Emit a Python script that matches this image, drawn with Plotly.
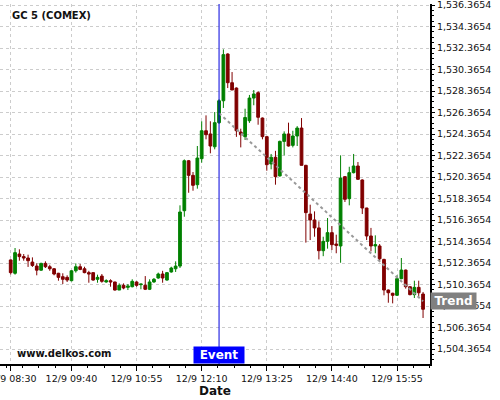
import pandas as pd
import plotly.graph_objects as go

# ---- data ----
start_time = "2014-12-09 08:30"
bar_minutes = 5
opens = [1512.65, 1511.41, 1513.20, 1512.96, 1512.83, 1512.45, 1512.08, 1511.70, 1512.33, 1512.02,
         1511.83, 1511.41, 1511.09, 1511.03, 1510.72, 1511.64, 1512.02, 1511.83, 1511.47, 1511.47,
         1510.85, 1511.15, 1510.60, 1510.72, 1510.60, 1509.85, 1510.29, 1510.10, 1510.16, 1510.60,
         1510.35, 1510.29, 1509.92, 1510.60, 1510.97, 1511.34, 1510.78, 1511.53, 1511.83, 1512.08,
         1517.23, 1521.88, 1520.52, 1519.65, 1522.07, 1524.67, 1524.37, 1523.18, 1525.42, 1527.46,
         1531.81, 1529.14, 1528.64, 1524.55, 1524.12, 1525.60, 1527.71, 1528.21, 1525.85, 1524.12,
         1521.58, 1522.20, 1520.47, 1523.68, 1524.37, 1523.31, 1524.18, 1524.92, 1521.45, 1516.92,
         1516.37, 1515.63, 1513.51, 1514.38, 1515.19, 1514.13, 1513.95, 1520.40, 1518.35, 1520.77,
         1521.39, 1520.09, 1517.48, 1514.88, 1513.95, 1513.95, 1512.70, 1509.85, 1509.55, 1509.36,
         1510.91, 1511.71, 1510.16, 1509.42, 1510.10, 1509.48]
highs = [1512.70, 1513.76, 1513.64, 1513.20, 1513.14, 1512.89, 1512.33, 1512.39, 1512.52, 1512.20,
         1511.90, 1511.45, 1511.41, 1511.22, 1511.70, 1512.33, 1512.27, 1512.02, 1511.64, 1511.50,
         1511.28, 1511.34, 1510.85, 1510.85, 1510.62, 1510.47, 1510.47, 1510.41, 1510.85, 1510.66,
         1510.41, 1511.15, 1510.85, 1510.97, 1511.47, 1511.64, 1511.53, 1512.02, 1512.52, 1517.73,
         1522.00, 1521.95, 1520.83, 1523.25, 1525.55, 1526.10, 1525.55, 1526.41, 1527.60, 1532.24,
         1531.87, 1530.13, 1528.70, 1524.86, 1526.72, 1528.00, 1528.46, 1528.34, 1525.90, 1524.20,
         1522.51, 1522.80, 1523.75, 1524.61, 1525.42, 1524.67, 1525.10, 1525.85, 1521.50, 1517.79,
         1517.17, 1516.24, 1514.81, 1516.55, 1515.80, 1515.00, 1522.38, 1520.45, 1521.32, 1522.51,
         1521.76, 1520.15, 1517.50, 1515.63, 1514.94, 1514.13, 1512.76, 1509.90, 1509.60, 1511.22,
         1512.83, 1511.75, 1510.20, 1510.72, 1510.72, 1509.67]
lows = [1511.30, 1511.28, 1512.58, 1512.58, 1512.00, 1512.00, 1511.22, 1511.64, 1511.90, 1511.64,
        1511.22, 1510.72, 1510.41, 1510.60, 1510.66, 1511.47, 1511.70, 1511.41, 1510.53, 1510.72,
        1510.53, 1510.53, 1510.53, 1510.16, 1509.80, 1509.85, 1509.92, 1509.85, 1510.10, 1510.16,
        1509.92, 1509.85, 1509.85, 1510.53, 1510.90, 1510.53, 1510.72, 1511.47, 1511.53, 1511.90,
        1516.67, 1518.90, 1519.09, 1519.28, 1521.70, 1523.87, 1522.57, 1522.94, 1525.30, 1526.79,
        1528.64, 1528.46, 1524.10, 1523.12, 1523.81, 1525.40, 1527.04, 1525.23, 1523.87, 1520.95,
        1521.08, 1519.65, 1520.40, 1522.38, 1523.20, 1523.12, 1523.25, 1521.45, 1514.26, 1514.50,
        1514.81, 1512.70, 1513.00, 1513.70, 1513.57, 1513.27, 1512.39, 1518.04, 1517.73, 1520.70,
        1520.10, 1516.92, 1514.50, 1513.45, 1513.27, 1512.45, 1509.36, 1508.67, 1508.61, 1509.30,
        1510.85, 1509.98, 1509.36, 1509.11, 1509.24, 1507.25]
closes = [1511.47, 1513.33, 1512.96, 1512.83, 1512.58, 1512.14, 1511.70, 1512.33, 1512.02, 1511.83,
          1511.34, 1511.03, 1510.85, 1510.78, 1511.64, 1512.02, 1511.77, 1511.47, 1511.34, 1510.78,
          1511.03, 1510.66, 1510.72, 1510.60, 1509.85, 1510.29, 1510.04, 1510.23, 1510.66, 1510.29,
          1510.41, 1509.92, 1510.60, 1510.85, 1511.34, 1510.97, 1511.47, 1511.90, 1512.08, 1517.11,
          1521.88, 1520.52, 1519.59, 1522.13, 1524.67, 1524.30, 1523.25, 1525.42, 1527.46, 1531.75,
          1529.14, 1528.46, 1524.67, 1524.30, 1525.90, 1527.71, 1528.09, 1525.92, 1524.12, 1521.51,
          1522.20, 1520.40, 1523.68, 1524.37, 1523.25, 1524.18, 1524.92, 1521.45, 1517.05, 1516.37,
          1515.63, 1513.51, 1514.38, 1515.19, 1514.07, 1514.01, 1520.27, 1518.29, 1520.77, 1521.39,
          1520.15, 1517.48, 1514.88, 1513.95, 1514.07, 1512.76, 1509.85, 1509.60, 1509.36, 1510.91,
          1511.71, 1510.16, 1509.42, 1510.10, 1509.60, 1508.06]

tick_times = ["2014-12-09 08:30", "2014-12-09 09:40", "2014-12-09 10:55", "2014-12-09 12:10",
              "2014-12-09 13:25", "2014-12-09 14:40", "2014-12-09 15:55"]
tick_labels = ["12/9 08:30", "12/9 09:40", "12/9 10:55", "12/9 12:10",
               "12/9 13:25", "12/9 14:40", "12/9 15:55"]
event_time = "2014-12-09 12:30"
trend_times = ["2014-12-09 12:30", "2014-12-09 16:25"]
trend_values = [1526.3, 1508.8]
x_range = ["2014-12-09 08:17:40", "2014-12-09 16:33:00"]
y_range = [1502.97, 1536.46]

times = pd.date_range(start_time, periods=len(opens), freq=f"{bar_minutes}min")

GREEN = "#008000"
RED = "#800000"
FONT = "DejaVu Sans"

fig = go.Figure(go.Candlestick(
    x=times, open=opens, high=highs, low=lows, close=closes,
    increasing=dict(line=dict(color=GREEN, width=1), fillcolor=GREEN),
    decreasing=dict(line=dict(color=RED, width=1), fillcolor=RED),
    whiskerwidth=0, showlegend=False, hoverinfo="skip",
))

fig.add_shape(type="line", xref="x", yref="y",
              x0=trend_times[0], x1=trend_times[1], y0=trend_values[0], y1=trend_values[1],
              line=dict(color="#999999", width=2, dash="dot"))
fig.add_shape(type="line", xref="x", yref="paper", x0=event_time, x1=event_time, y0=0, y1=1,
              line=dict(color="#0000dd", width=1), layer="above")

fig.add_annotation(text="<b>GC 5 (COMEX)</b>", xref="paper", yref="paper", x=0.023, y=0.968,
                   xanchor="left", yanchor="middle", showarrow=False,
                   font=dict(family=FONT, size=10, color="#111111"))
fig.add_annotation(text="<b>www.delkos.com</b>", xref="paper", yref="paper", x=0.035, y=0.029,
                   xanchor="left", yanchor="middle", showarrow=False,
                   font=dict(family=FONT, size=10, color="#111111"))
fig.add_annotation(text="<b>Event</b>", xref="x", yref="paper", x=event_time, y=0,
                   xanchor="center", yanchor="bottom", showarrow=False,
                   bgcolor="#0000ff", width=50, height=16, borderpad=0,
                   font=dict(family=FONT, size=12, color="white"))
fig.add_annotation(text="<b>Trend</b>", xref="paper", yref="y", x=1, y=trend_values[1],
                   xanchor="left", yanchor="middle", showarrow=False,
                   bgcolor="#808080", width=45, height=16, borderpad=0,
                   font=dict(family=FONT, size=12, color="white"))

fig.update_layout(
    width=500, height=400,
    margin=dict(l=0, r=70, t=4, b=36),
    paper_bgcolor="white", plot_bgcolor="white",
    boxgap=0.1,
    font=dict(family=FONT, color="#111111"),
    xaxis=dict(
        type="date", range=x_range, rangeslider=dict(visible=False),
        automargin=False,
        tickmode="array", tickvals=tick_times, ticktext=tick_labels,
        ticks="outside", ticklen=5, tickcolor="black", tickwidth=1,
        ticklabeloverflow="allow",
        tickfont=dict(family=FONT, size=9.5, color="#111111"),
        showline=True, linecolor="black", linewidth=2,
        showgrid=True, gridcolor="#cccccc", griddash="3px,3px", gridwidth=1,
        zeroline=False,
        minor=dict(tick0="2014-12-09 09:40", dtick=1125000, ticks="outside", ticklen=2,
                   tickcolor="black", showgrid=False),
        title=dict(text="<b>Date</b>", font=dict(family=FONT, size=12, color="#111111"), standoff=2),
    ),
    yaxis=dict(
        side="right", range=y_range, automargin=False,
        tick0=1504.3654, dtick=2, tickformat=",.4f",
        ticks="outside", ticklen=3, tickcolor="black",
        ticklabeloverflow="allow",
        tickfont=dict(family=FONT, size=9.5, color="#111111"),
        showline=True, linecolor="black", linewidth=2,
        showgrid=True, gridcolor="#cccccc", griddash="3px,3px", gridwidth=1,
        zeroline=False,
        minor=dict(dtick=0.5, tick0=1504.3654, ticks="outside", ticklen=2, tickcolor="black",
                   showgrid=False),
    ),
)

fig.write_html("out.html", config={"displayModeBar": False},
               post_script="document.body.style.margin='0';")
